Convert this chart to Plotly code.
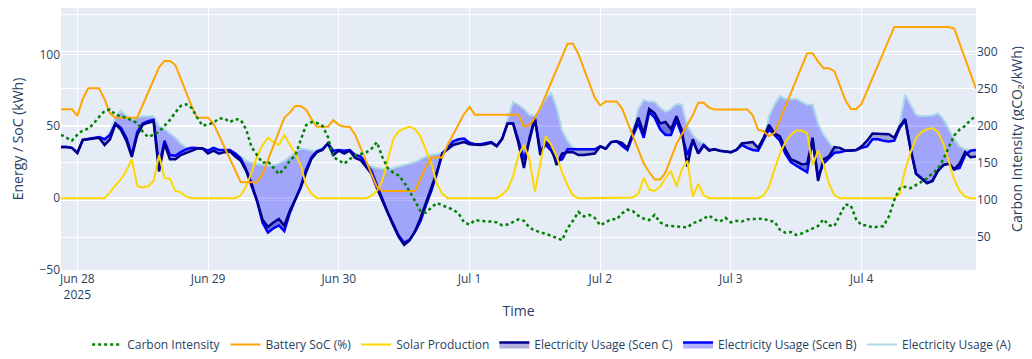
import pandas as pd
import plotly.graph_objects as go

start_time = "2025-06-27 21:00"
n_points = 169

battery_soc = [
    61.8, 61.8, 61.8, 57.2, 69, 76.5, 76.5, 76.5, 68.7, 59,
    56, 56, 56, 56, 56, 64.8, 73.6, 82.3, 91, 95.5,
    95.5, 92.6, 83, 73.4, 63.8, 56, 56, 56, 51.9, 43.7,
    35.5, 27.3, 19.1, 11.1, 11.1, 11.1, 11.1, 16.9, 26.6, 36.3,
    46, 55.9, 59.5, 64.1, 64.1, 61.5, 55, 49.7, 49.7, 49.7,
    54.2, 51, 49.7, 49.7, 44.2, 35.1, 26, 16.9, 7.8, 5,
    5, 5, 5, 5, 5, 5, 13.3, 21.6, 28.3, 28.3,
    28.3, 37.2, 44.4, 51, 58.5, 63.4, 58.1, 58.1, 58.1, 58.1,
    58.1, 58.1, 58.1, 58.1, 58.1, 50, 50.7, 55.6, 62.6, 71.6,
    80.6, 89.6, 98.6, 107.4, 107.4, 100.3, 90.1, 79.9, 69.8, 64.5,
    67.3, 67.3, 67.3, 62.5, 52.9, 43.3, 33.7, 24.1, 18, 12.9,
    12.9, 17.9, 27.9, 37.6, 44.5, 51, 57.6, 66.4, 66.4, 63,
    61.6, 61.6, 61.6, 61.6, 61.6, 61.6, 61.6, 57.6, 47.6, 46.6,
    43, 45.4, 54.8, 64.2, 73.6, 83, 92.4, 100.8, 100.8, 95,
    90.4, 90.4, 88.4, 78.3, 68.2, 62.1, 62.1, 65.7, 74.8, 83.8,
    92.9, 101.9, 111, 119.1, 119.1, 119.1, 119.1, 119.1, 119.1, 119.1,
    119.1, 119.1, 119.1, 119.1, 118, 107.5, 97, 86.5, 76.2,
]

solar_production = [
    0, 0, 0, 0, 0, 0, 0, 0, 0, 4,
    9, 13, 19, 27, 8.5, 7.5, 8.3, 12, 30, 14,
    13.4, 5, 4, 1, 0, 0, 0, 0, 0, 0,
    0, 0, 0, 2, 8, 18, 29, 37, 42, 39,
    37, 43.7, 37, 31, 23, 9, 3, 0, 0, 0,
    0, 0, 0, 0, 0, 0, 0, 1.5, 5, 12,
    27, 41, 46.5, 48.5, 49.7, 48, 43, 33, 24, 10,
    3, 0, 0, 0, 0, 0, 0, 0, 0, 0,
    0, 2.5, 6, 15, 30, 37, 27, 4.5, 25, 43,
    37, 29, 18, 9, 2, 0, 0, 0, 0, 0,
    0, 0, 0, 0, 0, 0.5, 3, 14, 6, 5,
    8, 14, 19, 8, 20, 26, 1, 10, 2, 0,
    0, 0, 0, 0, 0, 0, 0, 0, 0, 2,
    8, 20, 31, 39, 44, 47, 47, 45, 23, 33,
    24, 10, 2, 0, 0, 0, 0, 0, 0, 0,
    0, 0, 0, 0, 3, 20, 32, 42, 46, 48,
    48.8, 46, 38, 26, 13, 5, 1, 0, 0,
]

carbon_intensity = [
    188, 184, 180, 188, 194, 196, 203, 212, 220, 222,
    215, 213, 211, 207, 204, 192, 185, 188, 192, 200,
    208, 218, 227, 229, 224, 211, 200, 202, 204, 210,
    210, 205, 209, 208, 195, 171, 161, 150, 152, 143,
    135, 142, 153, 160, 182, 201, 205, 204, 200, 185,
    158, 153, 149, 155, 160, 162, 164, 169, 178, 158,
    143, 137, 133, 124, 112, 99, 85, 83, 90, 96,
    93, 90, 87, 82, 70, 67, 73, 72, 72, 71,
    70, 66, 67, 71, 74, 72, 63, 59, 57, 54,
    52, 49, 46, 62, 72, 84, 78, 80, 76, 66,
    70, 74, 74, 82, 87, 85, 79, 75, 73, 80,
    70, 66, 65, 65, 64, 63, 69, 71, 75, 79,
    74, 71, 76, 70, 72, 71, 74, 74, 74, 75,
    72, 71, 60, 56, 57, 53, 55, 58, 62, 65,
    74, 66, 65, 80, 94, 93, 74, 66, 66, 63,
    64, 65, 78, 100, 116, 118, 116, 120, 125, 129,
    136, 142, 155, 172, 187, 195, 200, 208, 213,
]

usage_scen_c = [
    35.6, 35.6, 35, 31.5, 40.5, 41, 42, 42, 37, 41,
    51.6, 47.5, 40, 28.7, 44, 51, 52.5, 53.5, 18.6, 38,
    27, 27, 30, 31.5, 33, 34.5, 34.5, 31, 33, 31,
    32, 32.5, 29, 26, 19, 9, -2, -15, -20, -17,
    -14.5, -19, -9, -1, 7, 18, 27.5, 32, 33.5, 38,
    30, 33, 31, 33, 28, 26.5, 22, 17, 7, -2,
    -11, -19, -27, -32.5, -29.5, -23, -14, -3, 7, 18,
    31, 34, 37, 38, 39, 37.5, 37, 37, 37.5, 38.5,
    36, 41, 52, 52, 38, 21, 41.5, 56, 30, 39,
    36, 23, 31, 32, 32, 30, 30, 30.5, 31, 36,
    34.4, 39, 39.5, 38.5, 35, 45, 56, 45, 62, 59,
    52, 53, 48, 57, 47, 22, 41, 31, 36.5, 33,
    34, 33, 32.5, 32, 33.5, 38, 38.5, 39, 35, 42,
    51, 45, 43, 34, 27, 25.6, 23.5, 24, 42, 12,
    27, 29, 35.5, 35, 33, 33, 33.5, 36, 40, 45,
    45, 44.5, 44.5, 42, 50, 55, 34, 17, 13.5, 10.5,
    12, 19, 23, 24, 20, 24, 32, 28.5, 29,
]

usage_scen_b = [
    35.6, 35.6, 35, 31.5, 40.5, 41, 42, 42.5, 41, 44,
    52, 49, 42, 30, 46, 52, 53.5, 54.5, 22, 40,
    30, 29.5, 32, 34, 35, 35, 34.5, 33, 35, 33.5,
    33.5, 33.5, 31, 27.5, 20, 10, -2, -17, -24, -21,
    -19, -23, -10.5, -1, 8, 20, 28.5, 32.5, 34, 38,
    33, 33.5, 33, 33.5, 30, 29, 24, 19, 9, -1,
    -10, -18, -26, -31, -29, -23.5, -16, -5, 5, 17,
    31, 35, 39.5, 41, 41.5, 38.5, 37.5, 37.5, 38, 39,
    36.5, 41.5, 52, 52, 40, 27, 40, 55, 33, 37,
    33, 26, 27, 34, 34, 34, 34, 34, 34, 36,
    34.4, 39, 39.5, 36.5, 33.5, 43.5, 52, 42, 60, 56,
    48, 44, 44, 54, 44, 30, 40, 31.5, 37, 33.5,
    34, 33, 32.5, 32, 33.5, 37, 35, 33.5, 33, 40,
    48, 44, 40, 31, 25, 22.5, 20, 18, 40, 15,
    24, 28, 31.5, 32, 33, 33, 33.5, 35, 36, 41,
    41, 40, 39.5, 40, 49, 54, 34, 17, 13.5, 10.5,
    12, 19, 23, 24, 20, 21, 30, 33, 33.5,
]

usage_a = [
    35.6, 35.6, 35, 31.5, 40.5, 41, 42, 42.5, 41, 46,
    56, 61, 57, 55, 56, 57, 57, 57, 50, 48,
    45, 42, 38, 35, 35, 35, 34.5, 33, 35, 33.5,
    33.5, 33.5, 31, 29, 26, 24.5, 24, 23, 22.5, 23,
    24, 26, 29, 32, 34.5, 34, 33, 32.5, 34, 38,
    33, 33.5, 33, 33.5, 30, 29, 24, 22, 21, 20.5,
    20, 21, 22, 23, 23.5, 25, 27, 29, 30, 31,
    31.5, 35, 39.5, 41, 41.5, 38.5, 37.5, 37.5, 38, 39,
    36.5, 41.5, 55, 67, 65, 62, 58, 57, 62, 70,
    73, 63, 47, 40, 35, 34, 34, 34, 34, 36,
    34.4, 39, 39.5, 36.5, 33.5, 47, 62, 68.5, 67, 67,
    63, 60, 62, 65.5, 65, 50, 44, 40, 38, 33.5,
    34, 33, 32.5, 32, 33.5, 37, 35, 33.5, 33, 40,
    57, 65, 71, 69, 69, 69, 67, 65, 65, 52,
    44, 39, 34, 32, 33, 33, 33.5, 35, 36, 41,
    41, 40, 39.5, 40, 52, 72, 65, 58, 57, 57,
    57.5, 59, 55, 48, 41, 36, 34, 33, 33.5,
]

for arr in (battery_soc, solar_production, carbon_intensity,
            usage_scen_c, usage_scen_b, usage_a):
    assert len(arr) == n_points, len(arr)

times = pd.date_range(start_time, periods=n_points, freq="h")

fig = go.Figure()
fig.add_trace(go.Scatter(
    x=times, y=usage_a, mode="lines", name="Electricity Usage (A)",
    line=dict(color="lightblue", width=2)))
fig.add_trace(go.Scatter(
    x=times, y=usage_scen_b, mode="lines", name="Electricity Usage (Scen B)",
    line=dict(color="blue", width=2.5), fill="tonexty",
    fillcolor="rgba(0,0,255,0.3)"))
fig.add_trace(go.Scatter(
    x=times, y=usage_scen_c, mode="lines", name="Electricity Usage (Scen C)",
    line=dict(color="darkblue", width=2.5), fill="tonexty",
    fillcolor="rgba(0,0,139,0.3)"))
fig.add_trace(go.Scatter(
    x=times, y=solar_production, mode="lines", name="Solar Production",
    line=dict(color="gold", width=2)))
fig.add_trace(go.Scatter(
    x=times, y=battery_soc, mode="lines", name="Battery SoC (%)",
    line=dict(color="orange", width=2)))
fig.add_trace(go.Scatter(
    x=times, y=carbon_intensity, mode="lines", name="Carbon Intensity",
    line=dict(color="green", width=2.5, dash="dot"), yaxis="y2"))

fig.update_layout(
    width=1024, height=351,
    template="plotly",
    margin=dict(l=53, r=56, t=0, b=86),
    xaxis=dict(title=dict(text="Time", standoff=4)),
    yaxis=dict(title=dict(text="Energy / SoC (kWh)"), range=[-50, 132.3]),
    yaxis2=dict(title=dict(text="Carbon Intensity (gCO₂/kWh)"),
                overlaying="y", side="right", range=[5.8, 358.7]),
    legend=dict(orientation="h", x=1.045, xanchor="right", y=-0.23,
                yanchor="top", traceorder="reversed"),
    showlegend=True,
)

fig.write_html("out.html")
